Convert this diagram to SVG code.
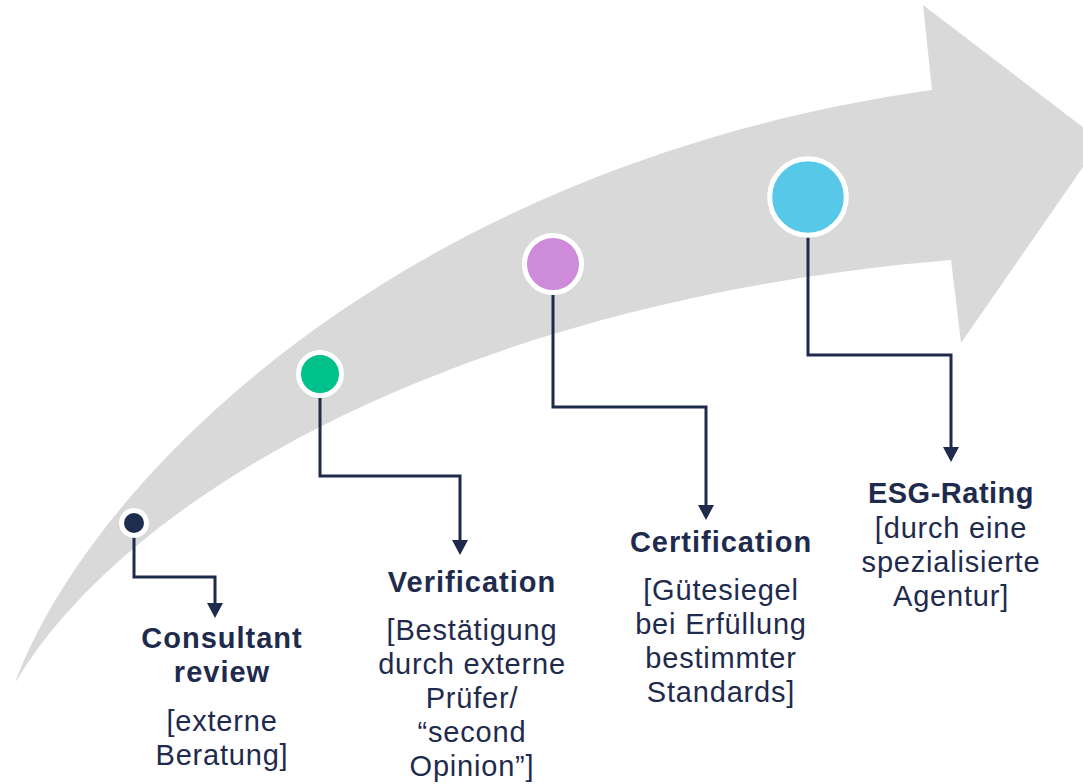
<svg xmlns="http://www.w3.org/2000/svg" width="1083" height="784" viewBox="0 0 1083 784">
  <style>
    .conn { fill: none; stroke: #1f2b4d; stroke-width: 3; }
    .head { fill: #1f2b4d; }
    .dot { stroke: #ffffff; stroke-width: 5; }
    .t { font-family: "Liberation Sans", Arial, sans-serif; font-size: 29px; fill: #1f2b4d; text-anchor: middle; letter-spacing: 0.8px; }
    .b { font-weight: bold; letter-spacing: 1px; }
  </style>
  <rect width="1083" height="784" fill="#ffffff"/>
  <g id="arrow">
    <path d="M15,683 C90,480 400,165 932,90 L923,5 L1101,141 L961,343 L951,260 C470,300 130,490 15,683 Z" fill="#d9d9d9"/>
  </g>
  <g id="connectors">
    <path class="conn" d="M134,537 V577 H215 V603"/>
    <path class="conn" d="M320,397 V476 H460 V540"/>
    <path class="conn" d="M553,295 V407 H706 V505"/>
    <path class="conn" d="M808,237 V355 H951 V447"/>
    <path class="head" d="M207,603 L223,603 L215,618 Z"/>
    <path class="head" d="M452,540 L468,540 L460,555 Z"/>
    <path class="head" d="M698,505 L714,505 L706,520 Z"/>
    <path class="head" d="M943,447 L959,447 L951,462 Z"/>
  </g>
  <g id="node-consultant">
    <circle class="dot" cx="134" cy="523" r="12.5" fill="#1f2d4f"/>
    <text class="t b" x="222" y="648">Consultant</text>
    <text class="t b" x="222" y="682">review</text>
    <text class="t" x="222" y="731">[externe</text>
    <text class="t" x="222" y="765">Beratung]</text>
  </g>
  <g id="node-verification">
    <circle class="dot" cx="320" cy="374" r="21.5" fill="#00c08b"/>
    <text class="t b" x="472" y="592">Verification</text>
    <text class="t" x="472" y="640">[Bestätigung</text>
    <text class="t" x="472" y="674">durch externe</text>
    <text class="t" x="472" y="708">Prüfer/</text>
    <text class="t" x="472" y="742">“second</text>
    <text class="t" x="472" y="776">Opinion”]</text>
  </g>
  <g id="node-certification">
    <circle class="dot" cx="553" cy="264" r="28.5" fill="#cd8bd9"/>
    <text class="t b" x="721" y="552">Certification</text>
    <text class="t" x="721" y="600">[Gütesiegel</text>
    <text class="t" x="721" y="634">bei Erfüllung</text>
    <text class="t" x="721" y="668">bestimmter</text>
    <text class="t" x="721" y="702">Standards]</text>
  </g>
  <g id="node-esg">
    <circle class="dot" cx="808" cy="197" r="38.3" fill="#57c8e8"/>
    <text class="t b" x="951" y="503" style="letter-spacing:0.5px">ESG-Rating</text>
    <text class="t" x="951" y="538">[durch eine</text>
    <text class="t" x="951" y="572">spezialisierte</text>
    <text class="t" x="951" y="606">Agentur]</text>
  </g>
</svg>
